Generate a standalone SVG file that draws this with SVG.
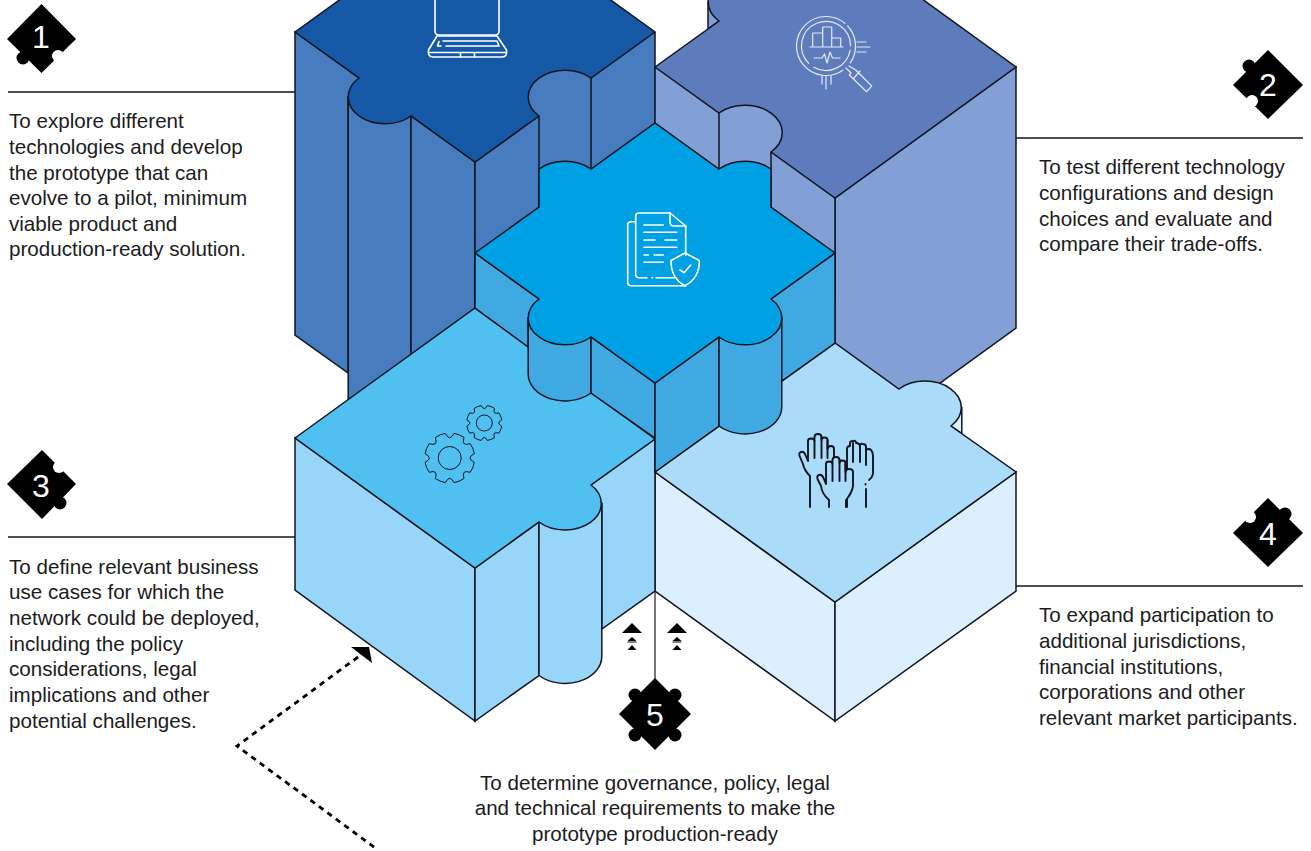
<svg xmlns="http://www.w3.org/2000/svg" width="1311" height="851" viewBox="0 0 1311 851">
<style>
.e{stroke:#10151f;stroke-width:1.5;stroke-linejoin:miter}
.s1{fill:#477cbf}.t1{fill:#1558a6}
.s2{fill:#83a0d6}.t2{fill:#5e7cbc}
.s3{fill:#98d6f9}.t3{fill:#4fc0f0}
.s4{fill:#dbeffe}.t4{fill:#aadcfa}
.s5{fill:#41a9e2}.t5{fill:#00a0e4}
.w{fill:none;stroke:#fff;stroke-width:1.6;stroke-linecap:round;stroke-linejoin:round}
.k{fill:none;stroke:#10151f;stroke-width:1;stroke-linejoin:round}
.h{fill:#aadcfa;stroke:#10151f;stroke-width:1.9;stroke-linecap:round;stroke-linejoin:round}
.hl{fill:none;stroke:#10151f;stroke-width:1.9;stroke-linecap:round}
.b{fill:#000}
.n{fill:#fff;font:32px "Liberation Sans",Arial,sans-serif;text-anchor:middle}
.p{fill:#1c1c1c;font:20.6px "Liberation Sans",Arial,sans-serif}
.l{stroke:#10151f;stroke-width:1.3;fill:none}
.d{stroke:#000;stroke-width:2.8;stroke-dasharray:5.5 5;fill:none}
</style>
<defs>
<path id="gear" d="M24.62,4.34A25,25 0 0 1 20.48,14.34Q11.3,11.3 14.34,20.48A25,25 0 0 1 4.34,24.62Q0,16 -4.34,24.62A25,25 0 0 1 -14.34,20.48Q-11.3,11.3 -20.48,14.34A25,25 0 0 1 -24.62,4.34Q-16,0 -24.62,-4.34A25,25 0 0 1 -20.48,-14.34Q-11.3,-11.3 -14.34,-20.48A25,25 0 0 1 -4.34,-24.62Q0,-16 4.34,-24.62A25,25 0 0 1 14.34,-20.48Q11.3,-11.3 20.48,-14.34A25,25 0 0 1 24.62,-4.34Q16,0 24.62,4.34Z"/>
<g id="tri"><polygon points="-9,9 0,0 9,9" class="b"/><polygon points="-4.5,18 0,14 4.5,18" class="b"/><polygon points="-4.5,27 0,22 4.5,27" class="b"/><path d="M-9.5,9.5H9.5M-4.5,19H4.5" stroke="#000" stroke-width="1"/></g>
</defs>
<g id="connectors">
<path class="l" d="M8,92H295M1016,138H1303M8,537H295M1016,586H1303"/>
<path d="M655,591V680" stroke="#555" stroke-width="1.6" fill="none"/>
<path class="d" d="M358,657L237,746L378,850"/>
<polygon class="b" points="351,647 369,647 372,663"/>
<use href="#tri" x="632" y="623"/>
<use href="#tri" x="677" y="623"/>
</g>
<g id="piece-1">
<path class="s1 e" d="M295,32L359,78L385,97H348.200V373L295,335Z"/>
<path class="s1 e" d="M348.200,97H385L411,116V420H348.200Z"/>
<path class="s1 e" d="M411,116L475,162V400H411Z"/>
<path class="s1 e" d="M475,162L539,116V320H475Z"/>
<path class="s1" d="M520,60H591V200H520Z"/>
<path class="s1" d="M591,78L655,32V200H591Z"/>
<path class="e" fill="none" d="M539,116V210M591,78V172M655,32V125"/>
<path class="t1 e" d="M295,32L385,-33H565L655,32L591,78A30,21.900 0 0 0 539,116L475,162L411,116A30,21.900 0 0 1 359,78Z"/>
<g class="w" id="icon-laptop"><path d="M435,-2V31Q435,35 439,35H495Q499,35 499,31V-2"/><path d="M437,36H497L506.500,50Q507.500,57 502,57H433Q427.500,57 428.500,50Z"/><path d="M429,52.500H506M460.500,52.500V57M474.500,52.500V57"/><path d="M443,41H497L499,46H446M441,46H437.500L439,41.500"/></g>
</g>
<g id="piece-2">
<path class="s2 e" d="M835,198L1016,67V328L835,459Z"/>
<path class="s2" d="M655,67L719,113V220H655Z"/>
<path class="s2" d="M719,100H790V165L835,198V300H719Z"/>
<path class="e" fill="none" d="M655,67V125M719,113V172M771,152V210M835,198V300"/>
<path class="s2 e" d="M708,2V29L719,21V2Z"/>
<path class="t2 e" d="M655,67L719,21A36.770,26.870 0 0 1 719,-17L755,-46H860L1016,67L835,198L771,152A30,21.900 0 0 0 719,113Z"/>
<g fill="none" stroke="#e4e9f5" stroke-width="1.2" stroke-linecap="round" stroke-linejoin="round" id="icon-search">
<path d="M842.900,70.200A29.500,29.500 0 1 1 845,23.400M847.600,25.900A29.500,29.500 0 0 1 850.200,62.900"/>
<path d="M850.100,50.300A24.500,24.500 0 0 1 813.800,67.200M808.700,63.300A24.500,24.500 0 1 1 850.500,46"/>
<path d="M810,47H843M812.700,47V33H822.700V47M822.700,33V27H831.700V47M831.700,38H840.700V47"/>
<path d="M814,58H822L824.500,54L827,63L830,52L832.500,58H840"/>
<path d="M857,42H866M857,47H870M857,52H866M822,76V84M826,76V89M831,76V84"/>
<path d="M846,68L851,73M849,66L855.700,70L871.700,86L866.700,91.700L849.300,75L851,73M854,78L860,71"/>
</g>
</g>
<g id="piece-4">
<path class="s4 e" d="M925,407.500H961.800V433.700L951,426Z"/>
<path class="s4 e" d="M655,472L835,602V721L655,591Z"/>
<path class="s4 e" d="M835,602L1016,472V591L835,721Z"/>
<path class="t4 e" d="M655,472L835,343L899,389A30,21.900 0 0 1 951,426L1016,472L835,602Z"/>
<g id="icon-hands">
<path class="h" d="M847,507V490L847,462V449Q847,446 850,446V443Q850,441 853,441Q856,440 856,443H857Q860,444 860,446Q860,443 863,444Q866,444 866,447V450Q869,448 871,450Q873,452 873,456V474Q872,478 869,480"/>
<path class="hl" d="M853,443V462M860,446V462M866,448V465M866,489V507M865.500,484V484.500"/>
<path class="h" d="M810,507V476Q804,470 803,464L800,457Q798,453 801,452Q804,451 805.500,455L808,461V441Q808,438.500 811,438.500Q814.500,438.500 814.500,441V437Q814.500,434 818,434Q821.500,434 821.500,437V440Q821.500,437.500 824.500,437.500Q827.500,437.500 827.500,440V449Q828,446 831,446Q834,446 834,449V470"/>
<path class="hl" d="M814.500,441V458M821.500,437V458M827.500,440V458"/>
<path class="h" d="M829,507V500Q822,494 821,486L818,480Q816,476 819,475Q822,474 823.500,478L826,484V464Q826,461.500 829,461.500Q832.500,461.500 832.500,464V460Q832.500,457 836,457Q839.500,457 839.500,460V463Q839.500,460.500 842.500,460.500Q845.500,460.500 845.500,463V472Q846,469 849,469Q853,469 853,472V486Q852,493 846,500V507"/>
<path class="hl" d="M832.500,464V481M839.500,460V481M845.500,463V481"/>
</g>
</g>
<g id="piece-3">
<path class="s3 e" d="M295,438L475,568V721L295,590Z"/>
<path class="s3 e" d="M591,485L655,439V591L601.800,629V503.500H565Z"/>
<path class="s3 e" d="M475,568L539,522V675.500L475,721Z"/>
<path class="s3 e" d="M539,522L565,503.500H601.800V656.500A36.770,26.870 0 0 1 539,675.500Z"/>
<path class="t3 e" d="M295,438L475,308L655,439L591,485A30,21.900 0 0 1 539,522L475,568Z"/>
<g id="icon-gears"><use href="#gear" class="k" transform="translate(449.700,458)"/><circle class="k" cx="449.700" cy="458" r="11.500"/><use href="#gear" class="k" style="stroke-width:1.400" transform="translate(484.300,423) scale(.71)"/><circle class="k" cx="484.300" cy="423" r="8"/></g>
</g>
<g id="piece-center">
<path class="s5 e" d="M475,253L539,299L565,318H528.200V347L475,308Z"/>
<path class="s5 e" d="M528.200,318H565L591,337V393A36.770,26.870 0 0 1 528.200,374Z"/>
<path class="s5 e" d="M591,337L655,383V438L591,393Z"/>
<path class="s5 e" d="M655,383L719,337V426L655,472Z"/>
<path class="s5 e" d="M719,337L745,318H781.800V407A36.770,26.870 0 0 1 719,426Z"/>
<path class="s5 e" d="M771,299L835,253V343L781.800,381V318H745Z"/>
<path class="t5 e" d="M475,253L539,207V169A37,27 0 0 1 591,169L655,123L719,169A37,27 0 0 1 771,169V207L835,253L771,299A30,21.900 0 0 1 719,337L655,383L591,337A30,21.900 0 0 1 539,299Z"/>
<g class="w" id="icon-doc"><path d="M685.700,255V226L670,213H639Q635.700,213 635.700,216V274Q635.700,277.700 639,277.700H647M656,277.700H676"/><path d="M670,213V222Q670,226 674,226H685.700"/><path d="M635.700,221.700H631Q627.700,221.700 627.700,225V282Q627.700,285.700 631,285.700H686"/><path d="M652,277.700H652.500"/><path d="M644,225H663.300M644,232.300H676.700M644,240H655M665,240H676.700M644,247.300H676.700M644,255H648.300M654,255H663.300M644,262.300H663.300"/><path d="M685,253L699.300,260.500C699.500,272 694,281 685,285.700C676,281 670.800,272 671,260.500Z"/><path d="M680,270L684,272.700L690.700,265"/></g>
</g>
<g id="badge-1"><polygon class="b" points="41.500,4 76,39 41.500,73 7,39"/><circle class="b" cx="23" cy="58" r="6.500"/><circle cx="58" cy="56" r="6" fill="#fff"/><text class="n" x="41" y="48">1</text></g>
<g id="badge-2"><polygon class="b" points="1268,50 1303,85 1268,119 1233,85"/><circle class="b" cx="1249" cy="66" r="6.500"/><circle cx="1252" cy="101" r="6" fill="#fff"/><text class="n" x="1268" y="96">2</text></g>
<g id="badge-3"><polygon class="b" points="42,450 76,484 42,519 7,484"/><circle cx="59" cy="467" r="6" fill="#fff"/><circle class="b" cx="60" cy="503" r="6.500"/><text class="n" x="41" y="497">3</text></g>
<g id="badge-4"><polygon class="b" points="1268,498 1303,533 1268,567 1233,533"/><circle cx="1250" cy="517" r="6" fill="#fff"/><circle class="b" cx="1285" cy="514" r="6.500"/><text class="n" x="1268" y="545">4</text></g>
<g id="badge-5"><polygon class="b" points="655,678 691,714 655,750 619,714"/><circle class="b" cx="635" cy="695" r="6.500"/><circle class="b" cx="675" cy="695" r="6.500"/><circle class="b" cx="635" cy="735" r="6.500"/><circle class="b" cx="675" cy="735" r="6.500"/><text class="n" x="655" y="726">5</text></g>
<g id="text-1" class="p"><text x="9" y="127.700">To explore different</text><text x="9" y="153.700">technologies and develop</text><text x="9" y="179.700">the prototype that can</text><text x="9" y="204.700">evolve to a pilot, minimum</text><text x="9" y="230.700">viable product and</text><text x="9" y="255.700">production-ready solution.</text></g>
<g id="text-2" class="p"><text x="1039" y="173.700">To test different technology</text><text x="1039" y="199.700">configurations and design</text><text x="1039" y="225.700">choices and evaluate and</text><text x="1039" y="250.700">compare their trade-offs.</text></g>
<g id="text-3" class="p"><text x="9" y="573.700">To define relevant business</text><text x="9" y="598.700">use cases for which the</text><text x="9" y="624.700">network could be deployed,</text><text x="9" y="650.700">including the policy</text><text x="9" y="675.700">considerations, legal</text><text x="9" y="701.700">implications and other</text><text x="9" y="727.700">potential challenges.</text></g>
<g id="text-4" class="p"><text x="1039" y="621.700">To expand participation to</text><text x="1039" y="647.700">additional jurisdictions,</text><text x="1039" y="673.700">financial institutions,</text><text x="1039" y="698.700">corporations and other</text><text x="1039" y="724.700">relevant market participants.</text></g>
<g id="text-5" class="p"><text x="655" y="789.700" text-anchor="middle">To determine governance, policy, legal</text><text x="655" y="814.700" text-anchor="middle">and technical requirements to make the</text><text x="655" y="840.700" text-anchor="middle">prototype production-ready</text></g>
</svg>
